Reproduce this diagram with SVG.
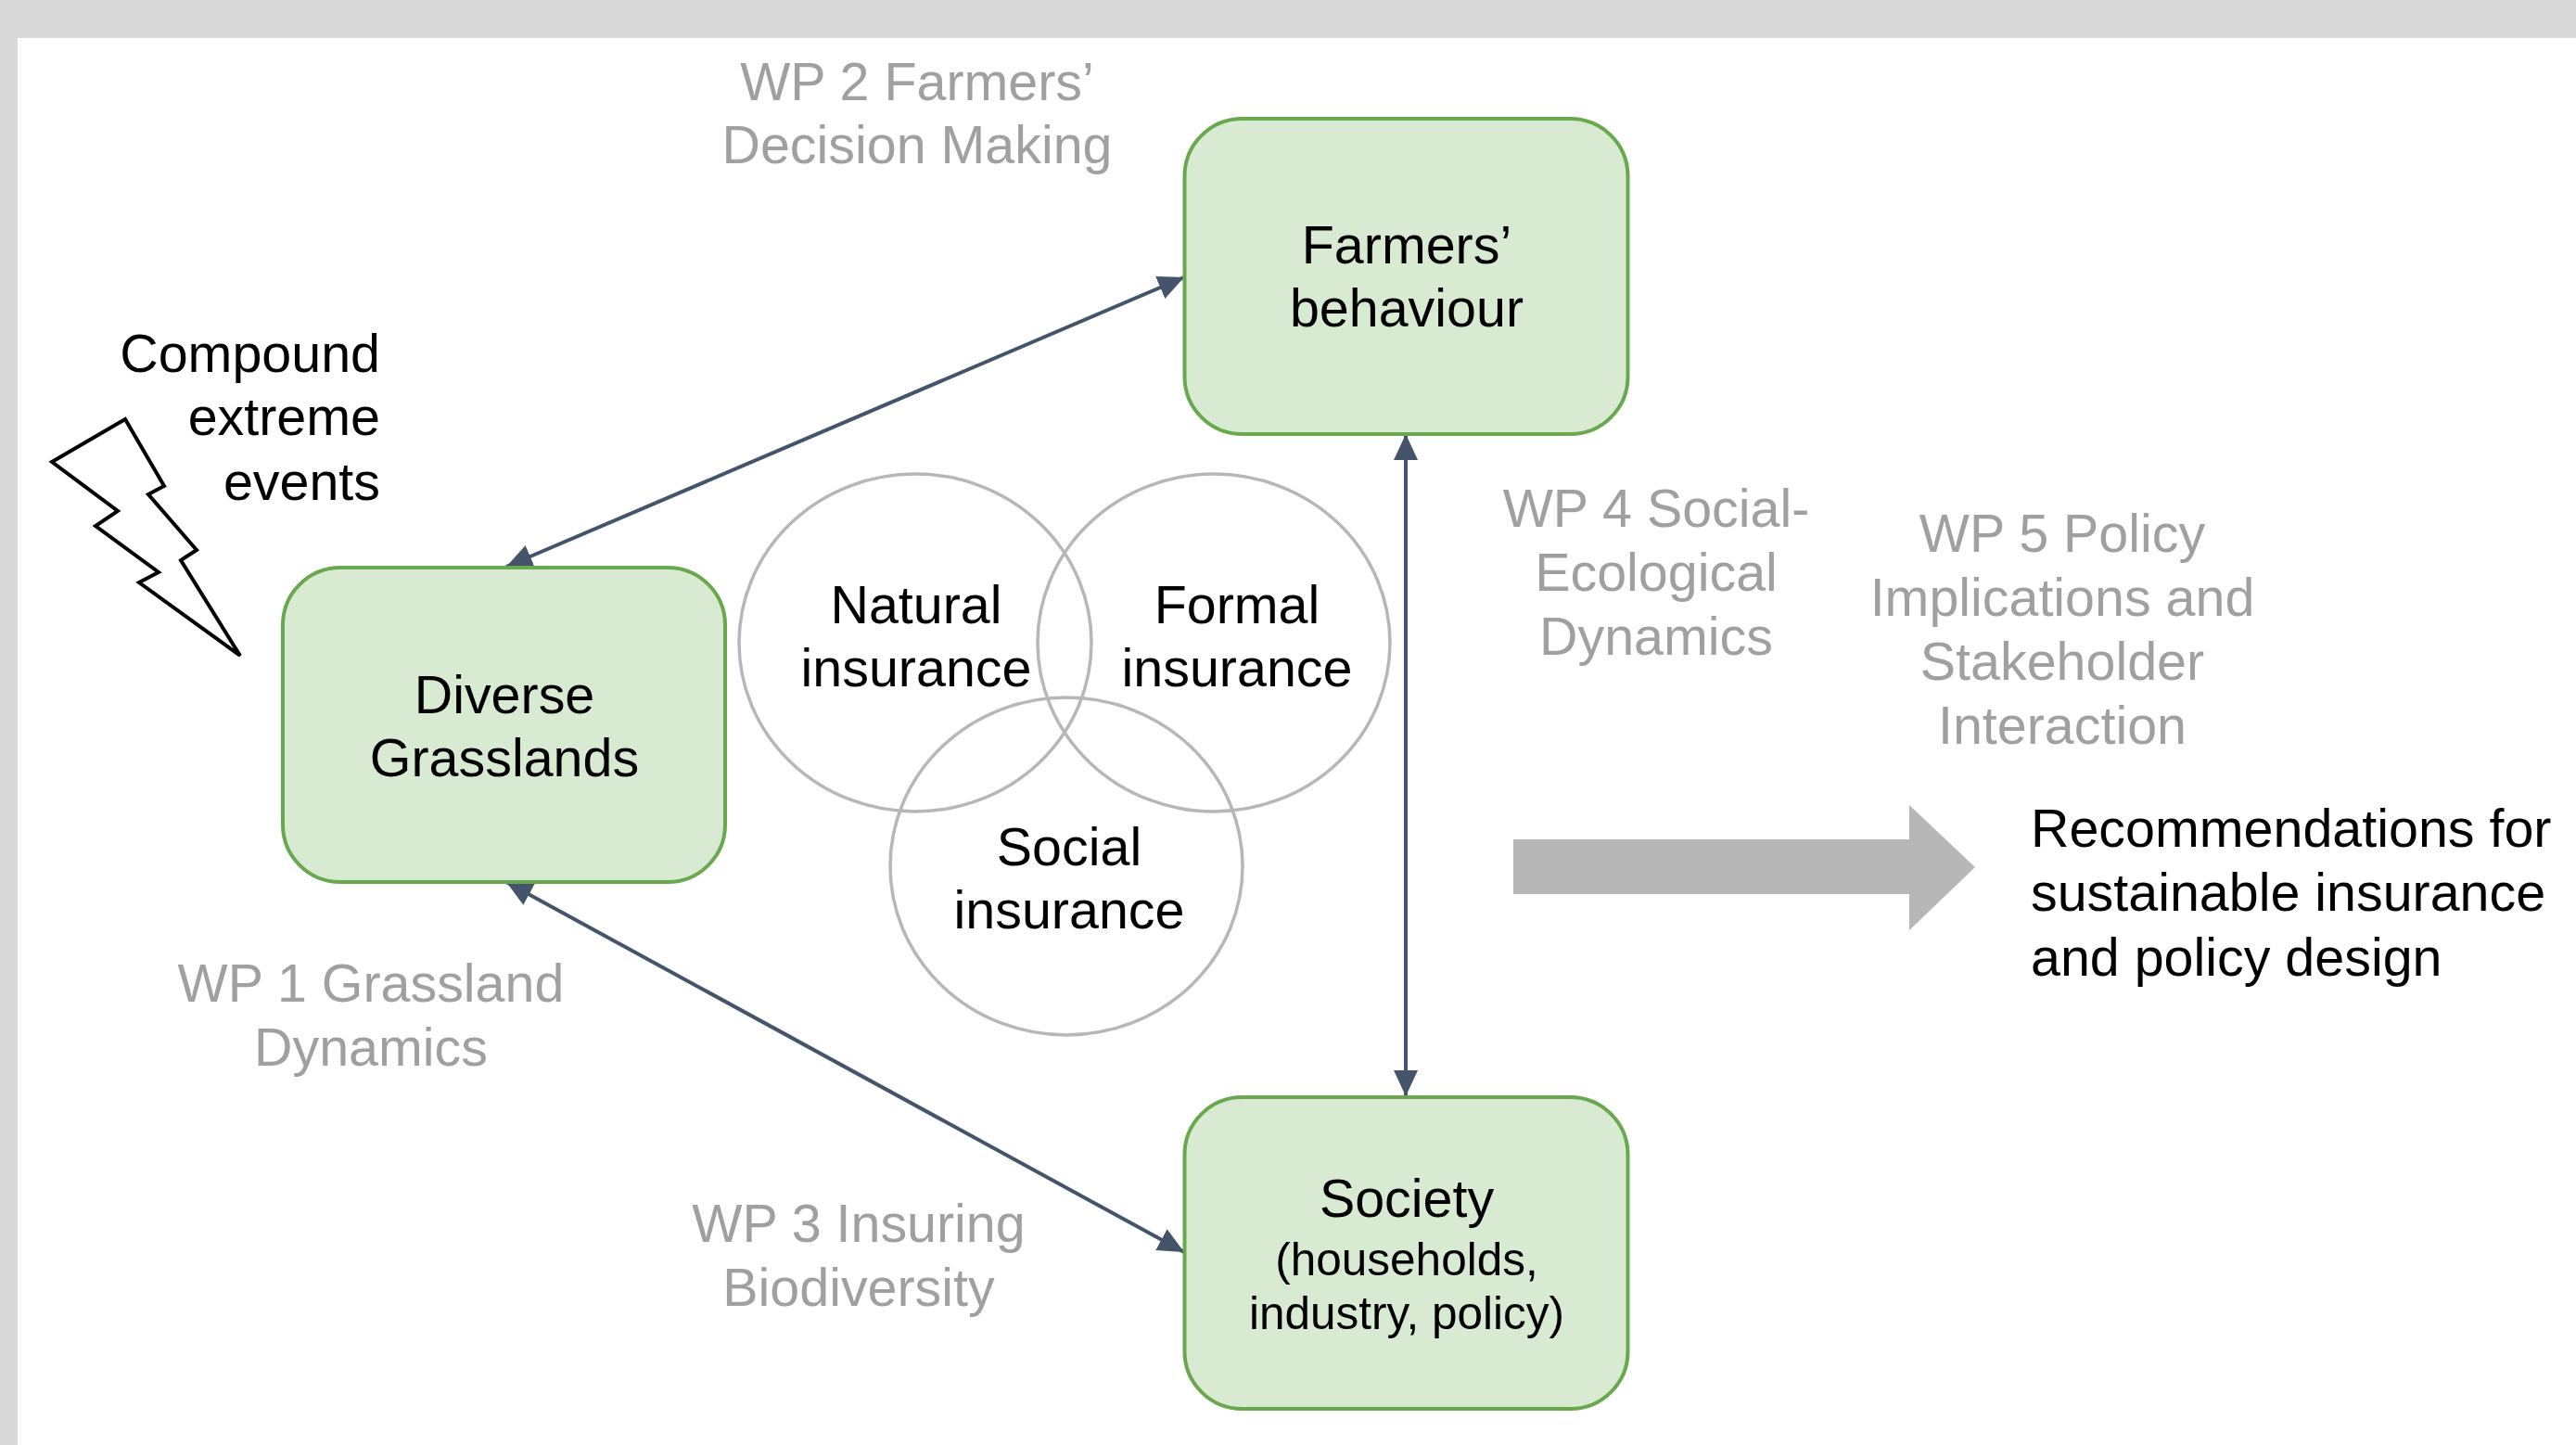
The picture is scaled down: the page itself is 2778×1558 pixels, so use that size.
<svg xmlns="http://www.w3.org/2000/svg" width="2778" height="1558" viewBox="0 0 2778 1558">
<style>
text{font-family:"Liberation Sans",Arial,sans-serif;font-size:57.4px;fill:#000}
.c{text-anchor:middle}
.r{text-anchor:end}
.g{fill:#a0a0a0}
.s{font-size:49.5px}
.box{fill:#d9ead3;stroke:#6aa84f;stroke-width:4}
.circ{fill:none;stroke:#b7b7b7;stroke-width:3.5}
.con{stroke:#44546a;stroke-width:4;fill:none;marker-start:url(#ah);marker-end:url(#ah)}
</style>
<defs><marker id="ah" viewBox="0 0 28 28" refX="28" refY="14" markerUnits="userSpaceOnUse" markerWidth="28" markerHeight="28" orient="auto-start-reverse"><path d="M0 1L28 14L0 27Z" fill="#44546a"/></marker></defs>
<rect width="2778" height="1558" fill="#fff"/>
<path d="M0 0H2778V41H19V1558H0Z" fill="#d9d9d9"/>
<g id="connectors">
<path class="con" d="M546 611L1277 299"/>
<path class="con" d="M546 951L1277 1350"/>
<path class="con" d="M1516 468V1182"/>
</g>
<g id="diverse"><rect class="box" x="305" y="612" width="477" height="339" rx="62"/><text class="c" x="544" y="769">Diverse</text><text class="c" x="544" y="837">Grasslands</text></g>
<g id="farmers"><rect class="box" x="1277.500" y="128" width="478" height="340" rx="62"/><text class="c" x="1517" y="284">Farmers’</text><text class="c" x="1517" y="352">behaviour</text></g>
<g id="society"><rect class="box" x="1277.500" y="1183" width="478" height="336" rx="62"/><text class="c" x="1517" y="1312">Society</text><text class="c s" x="1517" y="1375">(households,</text><text class="c s" x="1517" y="1433">industry, policy)</text></g>
<g id="natural"><ellipse class="circ" cx="987" cy="693" rx="190" ry="182"/></g>
<g id="formal"><ellipse class="circ" cx="1309" cy="693" rx="190" ry="182"/></g>
<g id="social"><ellipse class="circ" cx="1150" cy="934" rx="190" ry="182"/></g>
<text class="c" x="988" y="672">Natural</text><text class="c" x="988" y="740">insurance</text>
<text class="c" x="1334" y="672">Formal</text><text class="c" x="1334" y="740">insurance</text>
<text class="c" x="1153" y="933">Social</text><text class="c" x="1153" y="1001">insurance</text>
<g id="events"><polygon points="135,452 56,498 127,551 103,567 171,617 150,628 259,707 195,604 212,593 160,533 177,524" fill="#fff" stroke="#000" stroke-width="4"/>
<text class="r" x="410" y="401">Compound</text><text class="r" x="410" y="469">extreme</text><text class="r" x="410" y="539">events</text></g>
<g id="wp2"><text class="c g" x="989" y="108">WP 2 Farmers’</text><text class="c g" x="989" y="176">Decision Making</text></g>
<g id="wp1"><text class="c g" x="400" y="1080">WP 1 Grassland</text><text class="c g" x="400" y="1149">Dynamics</text></g>
<g id="wp3"><text class="c g" x="926" y="1339">WP 3 Insuring</text><text class="c g" x="926" y="1408">Biodiversity</text></g>
<g id="wp4"><text class="c g" x="1786" y="568">WP 4 Social-</text><text class="c g" x="1786" y="637">Ecological</text><text class="c g" x="1786" y="706">Dynamics</text></g>
<g id="wp5"><text class="c g" x="2224" y="595">WP 5 Policy</text><text class="c g" x="2224" y="664">Implications and</text><text class="c g" x="2224" y="733">Stakeholder</text><text class="c g" x="2224" y="802">Interaction</text></g>
<polygon id="bigarrow" points="1632,905 2059,905 2059,868 2130,935 2059,1003 2059,964 1632,964" fill="#b7b7b7"/>
<g id="recommendations"><text x="2190" y="913">Recommendations for</text><text x="2190" y="982">sustainable insurance</text><text x="2190" y="1052">and policy design</text></g>
</svg>
